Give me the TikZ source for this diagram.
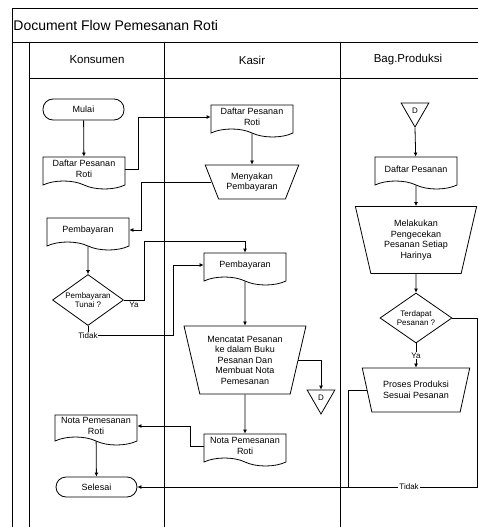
\documentclass[tikz,border=0pt]{standalone}
\usepackage{fontspec}
\setmainfont{Liberation Sans}
\usepackage{tikz}
\usetikzlibrary{shapes.geometric,shapes.symbols,arrows.meta}
\newcommand{\panah}{-{Latex[length=4pt,width=4pt]}}
\newcommand{\teks}{\fontsize{9}{10.5}\selectfont}

\tikzset{
  terminal/.style={draw, rounded corners=10pt, minimum width=81pt, minimum height=21pt, font=\teks},
  dokumen/.style={draw, tape, tape bend top=none, tape bend bottom=out and in, tape bend height=8pt,
                  minimum width=82pt, minimum height=32pt, align=center, inner sep=1pt, font=\teks},
  manual/.style={draw, trapezium, shape border rotate=180, trapezium stretches=true, align=center, inner sep=1pt, font=\teks},
  keputusan/.style={draw, diamond, inner sep=-5pt, align=center, font=\fontsize{8}{9.5}\selectfont},
  offpage/.style={draw, regular polygon, regular polygon sides=3, shape border rotate=180, minimum size=32pt, inner sep=0pt, font=\fontsize{8}{9}\selectfont},
  lbl/.style={fill=white, inner sep=1pt, font=\fontsize{8}{9}\selectfont}
}

\begin{document}
\begin{tikzpicture}[x=1pt, y=1pt, line width=0.8pt]
\clip (0,0) rectangle (478,-527);
\useasboundingbox (0,0) rectangle (478,-527);
% frame
\draw (12,-8) -- (490,-8);
\draw (12,-8) -- (12,-540);
\draw (12,-42) -- (490,-42);
\draw (29,-78) -- (490,-78);
\draw (29,-42) -- (29,-540);
\draw (164,-42) -- (164,-540);
\draw (340,-42) -- (340,-540);
\node[anchor=west, font=\fontsize{14}{16}\selectfont, inner sep=0pt] (judul) at (13,-25) {Document Flow Pemesanan Roti};
\node[font=\fontsize{11.5}{13}\selectfont] (konsumen) at (97,-60) {Konsumen};
\node[font=\fontsize{11.5}{13}\selectfont] (kasir) at (252,-60) {Kasir};
\node[font=\fontsize{11.5}{13}\selectfont] (produksi) at (408,-60) {Bag.Produksi};

% Konsumen
\node[terminal] (mulai) at (83.5,-109.5) {Mulai};
\node[dokumen] (dpr1) at (84,-169) {Daftar Pesanan\\Roti};
\node[dokumen] (bayar1) at (88,-230) {Pembayaran};
\node[keputusan, minimum width=71pt, minimum height=51pt] (tunai) at (88,-300) {Pembayaran\\Tunai ?};
\node[dokumen, minimum height=30pt] (nota1) at (96,-426) {Nota Pemesanan\\Roti};
\node[terminal, minimum height=20pt] (selesai) at (96.5,-487) {Selesai};

% Kasir
\node[dokumen] (dpr2) at (252,-117) {Daftar Pesanan\\Roti};
\node[manual, trapezium left angle=63, trapezium right angle=63, minimum width=94pt, minimum height=34pt] (menyakan) at (252,-182) {Menyakan\\Pembayaran};
\node[dokumen] (bayar2) at (245,-265) {Pembayaran};
\node[manual, trapezium left angle=75, trapezium right angle=75, minimum width=122pt, minimum height=68pt] (mencatat) at (245,-360) {Mencatat Pesanan\\ke dalam Buku\\Pesanan Dan\\Membuat Nota\\Pemesanan};
\node[offpage] (dkasir) at (321,-398) {D};
\node[dokumen] (nota2) at (245,-446) {Nota Pemesanan\\Roti};

% Bag.Produksi
\node[offpage] (dprod) at (415,-111) {D};
\node[dokumen] (dp3) at (416,-169) {Daftar Pesanan};
\node[manual, trapezium left angle=75, trapezium right angle=75, minimum width=122pt, minimum height=67pt] (melakukan) at (416,-240) {Melakukan\\Pengecekan\\Pesanan Setiap\\Harinya};
\node[keputusan, minimum width=72pt, minimum height=50pt] (terdapat) at (416,-318) {Terdapat\\Pesanan ?};
\node[manual, trapezium left angle=69, trapezium right angle=69, minimum width=108pt, minimum height=44pt] (proses) at (416,-390) {Proses Produksi\\Sesuai Pesanan};

% connectors
\draw[\panah] (mulai) -- (dpr1);
\draw[\panah] (dpr1.east) -- ++(13,0) |- (dpr2.west);
\draw[\panah] (dpr2) -- (menyakan);
\draw[\panah] (menyakan.west) -- ++(-70,0) |- (bayar1.east);
\draw[\panah] (bayar1) -- (tunai);
\draw[\panah] (tunai.east) -- node[lbl, below, yshift=-1pt] {Ya} ++(20,0) |- (bayar2.north |- 0,-241) -- (bayar2.north);
\draw (tunai.south) -- ++(0,-6) node[lbl, below, inner sep=0pt] (tidak) {Tidak};
\draw[\panah] (tidak.east) -- (tidak.east -| 173,0) |- (bayar2.west);
\draw[\panah] (bayar2) -- (mencatat);
\draw[\panah] (mencatat.east) -| (dkasir.north);
\draw[\panah] (mencatat) -- (nota2);
\draw[\panah] (nota2.west) -- ++(-13,0) |- (nota1.east);
\draw[\panah] (nota1) -- (selesai);
\draw[\panah] (dprod.south) -- (dp3);
\draw[\panah] (dp3) -- (melakukan);
\draw[\panah] (melakukan) -- (terdapat);
\draw[\panah] (terdapat) -- node[lbl] {Ya} (proses);
\draw[\panah] (terdapat.east) -- (477,-318) |- node[lbl, pos=0.6] {Tidak} (selesai.east);
\draw (proses.west) -| (348,-487);
\end{tikzpicture}
\end{document}
